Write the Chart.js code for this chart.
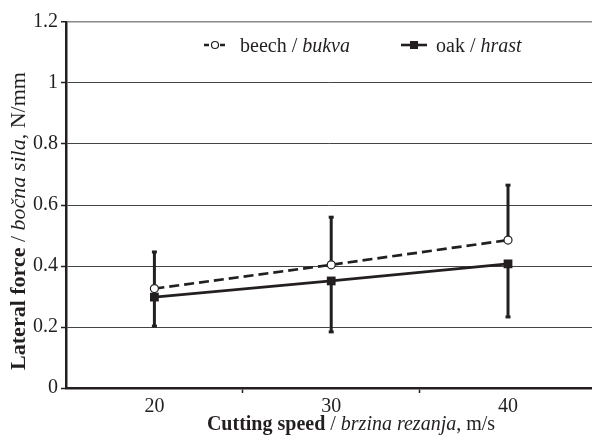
<!DOCTYPE html>
<html>
<head>
<meta charset="utf-8">
<script src="https://cdn.jsdelivr.net/npm/chart.js@4/dist/chart.umd.min.js"></script>
<style>
  html, body { margin: 0; padding: 0; background: #fff; }
  #wrap { width: 592px; height: 440px; }
</style>
</head>
<body>
<div id="wrap"><canvas id="chart" width="592" height="440"></canvas></div>
<script>
// cutting speed, m/s
var speeds = [20, 30, 40];
// lateral force, N/mm
var beech = [0.326, 0.404, 0.485];
var beechErrUp = [0.446, 0.560, 0.665];
var oak = [0.298, 0.351, 0.407];
var oakErrDown = [0.203, 0.184, 0.233];
var yTicks = [0, 0.2, 0.4, 0.6, 0.8, 1, 1.2];

var serif = "'Liberation Serif', 'Times New Roman', serif";
var ink = '#231f20';

function pairs(xs, ys) {
  var out = [];
  for (var i = 0; i < xs.length; i++) out.push({ x: xs[i], y: ys[i] });
  return out;
}

// draws a line of text made of several font pieces
function drawPieces(ctx, pieces, x, y, align) {
  var total = 0;
  pieces.forEach(function (p) { ctx.font = p[1]; total += ctx.measureText(p[0]).width; });
  var cx = align === 'center' ? x - total / 2 : x;
  ctx.textAlign = 'left';
  ctx.textBaseline = 'alphabetic';
  pieces.forEach(function (p) {
    ctx.font = p[1];
    ctx.fillText(p[0], cx, y);
    cx += ctx.measureText(p[0]).width;
  });
}

var errorBars = {
  id: 'errorBars',
  beforeDatasetsDraw: function (chart) {
    var ctx = chart.ctx, xs = chart.scales.x, ys = chart.scales.y;
    ctx.save();
    ctx.strokeStyle = ink;
    ctx.fillStyle = ink;
    ctx.lineWidth = 3;
    var sets = [[beech, beechErrUp], [oak, oakErrDown]];
    sets.forEach(function (s) {
      for (var i = 0; i < speeds.length; i++) {
        var px = xs.getPixelForValue(speeds[i]);
        var y0 = ys.getPixelForValue(s[0][i]);
        var y1 = ys.getPixelForValue(s[1][i]);
        ctx.beginPath();
        ctx.moveTo(px, y0);
        ctx.lineTo(px, y1);
        ctx.stroke();
        ctx.fillRect(px - 2.5, y1 - 1.5, 5, 3);
      }
    });
    ctx.restore();
  }
};

var textBits = {
  id: 'textBits',
  afterDraw: function (chart) {
    var ctx = chart.ctx;
    ctx.save();
    ctx.fillStyle = ink;
    // x title
    drawPieces(ctx, [
      ['Cutting speed', 'bold 20px ' + serif],
      [' / ', '20px ' + serif],
      ['brzina rezanja', 'italic 20px ' + serif],
      [', m/s', '20px ' + serif]
    ], 351, 430, 'center');
    // y title
    ctx.save();
    ctx.translate(25, 221);
    ctx.rotate(-Math.PI / 2);
    drawPieces(ctx, [
      ['Lateral force', 'bold 22px ' + serif],
      [' / ', '22px ' + serif],
      ['bočna sila', 'italic 22px ' + serif],
      [', N/mm', '22px ' + serif]
    ], 0, 0, 'center');
    ctx.restore();

    // legend
    var ly = 45;
    ctx.strokeStyle = ink;
    ctx.lineWidth = 2.6;
    ctx.setLineDash([5, 3]);
    ctx.beginPath();
    ctx.moveTo(204, ly); ctx.lineTo(226, ly);
    ctx.stroke();
    ctx.setLineDash([]);
    ctx.beginPath();
    ctx.arc(215, ly, 3.5, 0, Math.PI * 2);
    ctx.fillStyle = '#fff';
    ctx.fill();
    ctx.lineWidth = 1.2;
    ctx.stroke();
    ctx.fillStyle = ink;
    drawPieces(ctx, [
      ['beech / ', '20px ' + serif],
      ['bukva', 'italic 20px ' + serif]
    ], 240, ly + 7, 'left');

    ctx.lineWidth = 2.6;
    ctx.beginPath();
    ctx.moveTo(401, ly); ctx.lineTo(427, ly);
    ctx.stroke();
    ctx.fillRect(410, ly - 4, 8, 8);
    drawPieces(ctx, [
      ['oak / ', '20px ' + serif],
      ['hrast', 'italic 20px ' + serif]
    ], 436, ly + 7, 'left');
    ctx.restore();
  }
};

new Chart(document.getElementById('chart'), {
  type: 'line',
  data: {
    datasets: [{
      label: 'beech / bukva',
      data: pairs(speeds, beech),
      borderColor: ink,
      borderWidth: 2.7,
      borderDash: [10, 5],
      pointStyle: 'circle',
      pointRadius: 4,
      pointBorderWidth: 1.2,
      pointBackgroundColor: '#fff',
      pointBorderColor: ink,
      fill: false
    }, {
      label: 'oak / hrast',
      data: pairs(speeds, oak),
      borderColor: ink,
      borderWidth: 2.7,
      pointStyle: 'rect',
      pointRadius: 6.2,
      pointBorderWidth: 0,
      pointBackgroundColor: ink,
      pointBorderColor: ink,
      fill: false
    }]
  },
  options: {
    responsive: false,
    animation: false,
    layout: { autoPadding: false, padding: { top: 22, right: 0, left: 0, bottom: 0 } },
    plugins: {
      legend: { display: false },
      tooltip: { enabled: false }
    },
    scales: {
      x: {
        type: 'linear',
        min: 15,
        max: 44.75,
        afterBuildTicks: function (scale) {
          scale.ticks = [20, 25, 30, 35, 40].map(function (v) { return { value: v }; });
        },
        afterFit: function (scale) {
          scale.height = 52;
          scale.paddingLeft = 0;
          scale.paddingRight = 0;
        },
        ticks: {
          autoSkip: false,
          maxRotation: 0,
          padding: 2,
          color: ink,
          font: { family: serif, size: 20 },
          callback: function (v) { return speeds.indexOf(v) >= 0 ? String(v) : ''; }
        },
        grid: {
          drawOnChartArea: false,
          drawTicks: true,
          tickLength: 5,
          tickWidth: 1.5,
          tickColor: function (c) { return speeds.indexOf(c.tick.value) >= 0 ? 'rgba(0,0,0,0)' : ink; }
        },
        border: { display: true, color: ink, width: 2.5 }
      },
      y: {
        min: 0,
        max: 1.2,
        afterBuildTicks: function (scale) {
          scale.ticks = yTicks.map(function (v) { return { value: v }; });
        },
        afterFit: function (scale) {
          scale.width = 66;
          scale.paddingTop = 0;
          scale.paddingBottom = 0;
        },
        ticks: {
          padding: 3,
          color: ink,
          font: { family: serif, size: 20 },
          callback: function (v) { return String(v); }
        },
        grid: {
          color: function (c) { return c.tick && c.tick.value === 1.2 ? '#888' : '#444'; },
          lineWidth: function (c) { return c.tick && c.tick.value === 1.2 ? 1.5 : 1; },
          tickLength: 5,
          tickColor: ink,
          tickWidth: 1.5
        },
        border: { display: true, color: ink, width: 2.5 }
      }
    }
  },
  plugins: [errorBars, textBits]
});
</script>
</body>
</html>
